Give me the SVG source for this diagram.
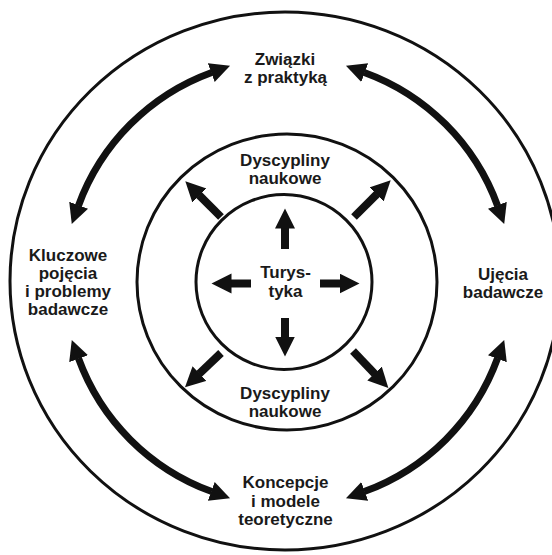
<svg xmlns="http://www.w3.org/2000/svg" width="552" height="555" viewBox="0 0 552 555">
<style>
.ring{fill:none;stroke:#111;stroke-width:3}
.lbl{font-family:"Liberation Sans",Arial,sans-serif;font-weight:bold;font-size:17px;fill:#1a1a1a;text-anchor:middle}
.sa{fill:none;stroke:#111;stroke-width:8;marker-end:url(#head)}
.ca{fill:none;stroke:#111;stroke-width:7;marker-start:url(#headc);marker-end:url(#headc)}
</style>
<defs>
<marker id="head" markerUnits="userSpaceOnUse" markerWidth="22" markerHeight="22" refX="0.5" refY="10" orient="auto">
<path d="M0,0 L20,10 L0,20 z" fill="#111"/>
</marker>
<marker id="headc" markerUnits="userSpaceOnUse" markerWidth="22" markerHeight="22" refX="0.5" refY="10" orient="auto-start-reverse">
<path d="M0,0 L20,10 L0,20 z" fill="#111"/>
</marker>
</defs>
<rect width="552" height="555" fill="#fff"/>
<g id="rings">
<ellipse class="ring" cx="285" cy="281" rx="275" ry="269"/>
<ellipse class="ring" cx="287" cy="282" rx="150" ry="148"/>
<ellipse class="ring" cx="284" cy="282" rx="88" ry="87.5"/>
</g>
<g id="connectors">
<line class="sa" x1="285" y1="249" x2="285" y2="228"/>
<line class="sa" x1="285" y1="318" x2="285" y2="337"/>
<line class="sa" x1="251" y1="283.5" x2="231" y2="283.5"/>
<line class="sa" x1="320" y1="283.5" x2="340" y2="283.5"/>
<line class="sa" x1="221" y1="217" x2="199.1" y2="195.1"/>
<line class="sa" x1="354" y1="217" x2="376.9" y2="194.1"/>
<line class="sa" x1="221" y1="353" x2="199.1" y2="373.9"/>
<line class="sa" x1="353" y1="351" x2="374.9" y2="373.9"/>
<path class="ca" d="M78.45,205.73 A223,223 0 0,1 211.73,72.45"/>
<path class="ca" d="M364.27,72.45 A223,223 0 0,1 497.55,205.73"/>
<path class="ca" d="M497.55,358.27 A223,223 0 0,1 364.27,491.55"/>
<path class="ca" d="M211.73,491.55 A223,223 0 0,1 78.45,358.27"/>
</g>
<g id="turystyka">
<text class="lbl" x="285.5" y="278">Turys-</text>
<text class="lbl" x="285.5" y="297">tyka</text>
</g>
<g id="dyscypliny-top">
<text class="lbl" x="285" y="166">Dyscypliny</text>
<text class="lbl" x="285" y="184">naukowe</text>
</g>
<g id="dyscypliny-bottom">
<text class="lbl" x="285" y="399">Dyscypliny</text>
<text class="lbl" x="285" y="417">naukowe</text>
</g>
<g id="zwiazki">
<text class="lbl" x="285" y="65">Związki</text>
<text class="lbl" x="285.5" y="83">z praktyką</text>
</g>
<g id="kluczowe">
<text class="lbl" x="68" y="261">Kluczowe</text>
<text class="lbl" x="68" y="279">pojęcia</text>
<text class="lbl" x="68" y="297">i problemy</text>
<text class="lbl" x="68" y="315">badawcze</text>
</g>
<g id="ujecia">
<text class="lbl" x="503" y="280">Ujęcia</text>
<text class="lbl" x="503" y="298">badawcze</text>
</g>
<g id="koncepcje">
<text class="lbl" x="285.5" y="488">Koncepcje</text>
<text class="lbl" x="285.5" y="507">i modele</text>
<text class="lbl" x="285.5" y="525">teoretyczne</text>
</g>
</svg>
